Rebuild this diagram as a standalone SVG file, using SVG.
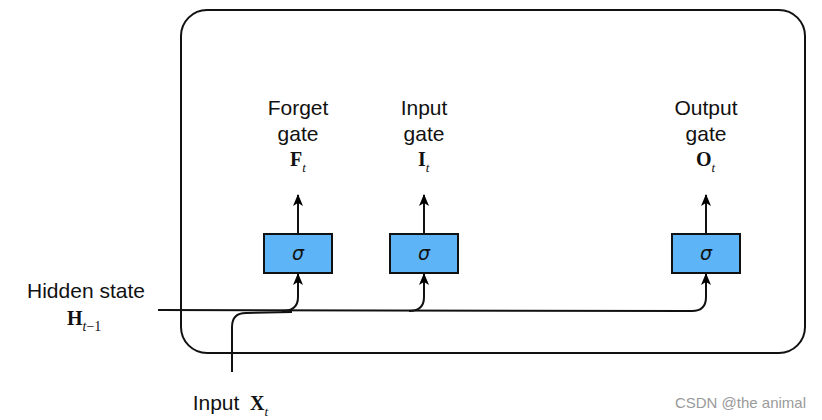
<svg xmlns="http://www.w3.org/2000/svg" width="822" height="420" viewBox="0 0 822 420">
<defs>
<marker id="arr" markerUnits="userSpaceOnUse" markerWidth="12" markerHeight="12" viewBox="0 0 12 12" refX="11" refY="6" orient="auto">
<path d="M0,1 L12,6 L0,11 L3,6 z" fill="#000"/>
</marker>
<style>
.lbl{font-family:"Liberation Sans",Arial,sans-serif;font-size:21px;fill:#111;text-anchor:middle}
.sym{font-family:"Liberation Serif","Times New Roman",serif;font-size:20px;font-weight:bold;fill:#111}
.sub{font-family:"Liberation Serif","Times New Roman",serif;font-size:13px;font-style:italic;font-weight:normal}
.box{fill:#5DB4F6;stroke:#111;stroke-width:2}
.sig{font-family:"DejaVu Sans",sans-serif;font-style:italic;font-size:19px;fill:#111;text-anchor:middle}
.ln{fill:none;stroke:#111;stroke-width:2}
</style>
</defs>
<rect width="822" height="420" fill="#fff"/>
<rect id="cell" x="181" y="10" width="624" height="343" rx="26" fill="none" stroke="#111" stroke-width="2"/>
<g id="connectors">
<path class="ln" d="M158,310 L692,311 Q706,311 706,297 L706,274" marker-end="url(#arr)"/>
<path class="ln" d="M282,311 Q298,311 298,297 L298,274" marker-end="url(#arr)"/>
<path class="ln" d="M409,311 Q424,311 424,297 L424,274" marker-end="url(#arr)"/>
<path class="ln" d="M232,372 L232,327 Q232,313 246,313 L292,312"/>
<path class="ln" d="M298,233 L298,195" marker-end="url(#arr)"/>
<path class="ln" d="M424,233 L424,195" marker-end="url(#arr)"/>
<path class="ln" d="M706,233 L706,195" marker-end="url(#arr)"/>
</g>
<g id="forget">
<rect class="box" x="264" y="234" width="68" height="39"/>
<text class="sig" x="298" y="260">σ</text>
<text class="lbl" x="298" y="115">Forget</text>
<text class="lbl" x="298" y="141">gate</text>
<text class="sym" x="290" y="166">F<tspan class="sub" dy="6">t</tspan></text>
</g>
<g id="input">
<rect class="box" x="390" y="234" width="68" height="39"/>
<text class="sig" x="424" y="260">σ</text>
<text class="lbl" x="424" y="115">Input</text>
<text class="lbl" x="424" y="141">gate</text>
<text class="sym" x="418" y="166">I<tspan class="sub" dy="6">t</tspan></text>
</g>
<g id="output">
<rect class="box" x="672" y="234" width="68" height="39"/>
<text class="sig" x="706" y="260">σ</text>
<text class="lbl" x="706" y="115">Output</text>
<text class="lbl" x="706" y="141">gate</text>
<text class="sym" x="696" y="166">O<tspan class="sub" dy="6">t</tspan></text>
</g>
<g id="hidden">
<text class="lbl" x="86" y="298">Hidden state</text>
<text class="sym" x="67" y="325">H<tspan class="sub" dy="6" style="font-size:14px">t</tspan><tspan class="sub" style="font-style:normal;font-size:14px">−1</tspan></text>
</g>
<g id="inputX">
<text class="lbl" x="216" y="410">Input</text>
<text class="sym" x="250" y="410">X<tspan class="sub" dy="6">t</tspan></text>
</g>
<text x="806" y="408" font-family="Liberation Sans,Arial,sans-serif" font-size="15" fill="#9a9a9a" text-anchor="end">CSDN @the animal</text>
</svg>
